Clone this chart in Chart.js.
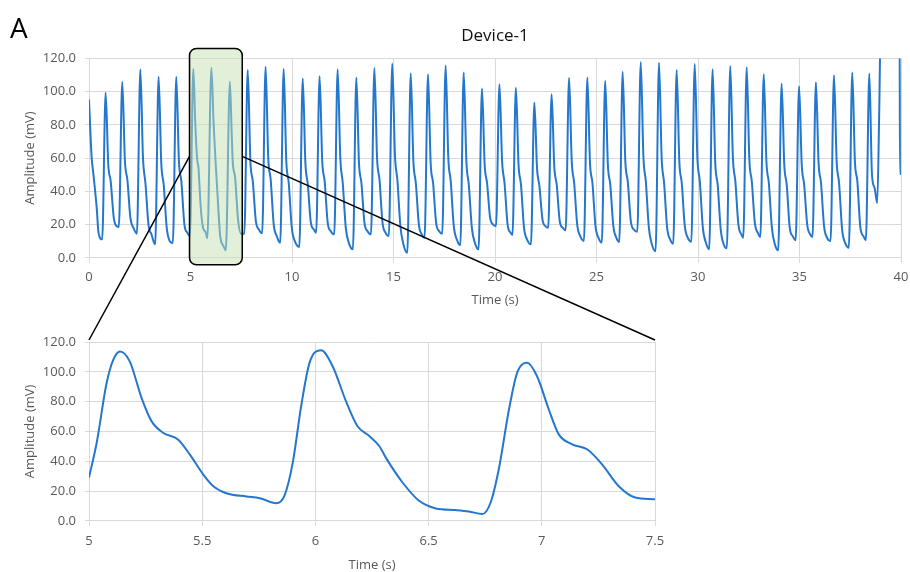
<!DOCTYPE html>
<html>
<head>
<meta charset="utf-8">
<script src="https://cdn.jsdelivr.net/npm/chart.js@4.4.1/dist/chart.umd.min.js"></script>
<style>
body { margin: 0; background: #fff; overflow: hidden; }
#wrap { position: relative; width: 910px; height: 572px; overflow: hidden; font-family: 'Open Sans', sans-serif; }
#topChart { position: absolute; left: 0; top: 0; }
#zoomChart { position: absolute; left: 0; top: 305px; }
#overlay { position: absolute; left: 0; top: 0; pointer-events: none; }
#panel { position: absolute; left: 10px; top: 13px; font-size: 28px; line-height: 28px; color: #000; }
</style>
</head>
<body>
<div id="wrap">
  <canvas id="topChart" width="910" height="308"></canvas>
  <canvas id="zoomChart" width="910" height="268"></canvas>
  <canvas id="overlay" width="910" height="572"></canvas>
  <div id="panel">A</div>
</div>
<script>
// full recording, Device-1 (one row per beat)
const topTime = [
    0, 0.13, 0.22, 0.38, 0.47,
    0.65, 0.82, 0.95, 1.07, 1.22, 1.37,
    1.47, 1.64, 1.77, 1.89, 2.04, 2.19,
    2.36, 2.53, 2.66, 2.78, 2.93, 3.08,
    3.26, 3.43, 3.56, 3.68, 3.83, 3.98,
    4.13, 4.30, 4.43, 4.55, 4.70, 4.85,
    4.97, 5.14, 5.23, 5.33, 5.39, 5.50, 5.61, 5.75,
    5.83, 6.03, 6.14, 6.24, 6.31, 6.39, 6.46, 6.62,
    6.74, 6.94, 7.03, 7.08, 7.20, 7.34, 7.49,
    7.65, 7.82, 7.95, 8.07, 8.22, 8.37,
    8.53, 8.70, 8.83, 8.95, 9.10, 9.25,
    9.42, 9.59, 9.72, 9.84, 9.99, 10.14,
    10.36, 10.53, 10.66, 10.78, 10.93, 11.08,
    11.19, 11.36, 11.49, 11.61, 11.76, 11.91,
    12.08, 12.25, 12.38, 12.50, 12.65, 12.80,
    13.00, 13.17, 13.30, 13.42, 13.57, 13.72,
    13.89, 14.06, 14.19, 14.31, 14.46, 14.61,
    14.77, 14.94, 15.07, 15.19, 15.34, 15.49,
    15.68, 15.85, 15.98, 16.10, 16.25, 16.40,
    16.53, 16.70, 16.83, 16.95, 17.10, 17.25,
    17.40, 17.57, 17.70, 17.82, 17.97, 18.12,
    18.29, 18.46, 18.59, 18.71, 18.86, 19.01,
    19.19, 19.36, 19.49, 19.61, 19.76, 19.91,
    20.05, 20.22, 20.35, 20.47, 20.62, 20.77,
    20.86, 21.03, 21.16, 21.28, 21.43, 21.58,
    21.77, 21.94, 22.07, 22.19, 22.34, 22.49,
    22.62, 22.79, 22.92, 23.04, 23.19, 23.34,
    23.48, 23.65, 23.78, 23.90, 24.05, 24.20,
    24.38, 24.55, 24.68, 24.80, 24.95, 25.10,
    25.26, 25.43, 25.56, 25.68, 25.83, 25.98,
    26.12, 26.29, 26.42, 26.54, 26.69, 26.84,
    27.01, 27.18, 27.31, 27.43, 27.58, 27.73,
    27.91, 28.08, 28.21, 28.33, 28.48, 28.63,
    28.78, 28.95, 29.08, 29.20, 29.35, 29.50,
    29.67, 29.84, 29.97, 30.09, 30.24, 30.39,
    30.55, 30.72, 30.85, 30.97, 31.12, 31.27,
    31.42, 31.59, 31.72, 31.84, 31.99, 32.14,
    32.23, 32.40, 32.53, 32.65, 32.80, 32.95,
    33.07, 33.24, 33.37, 33.49, 33.64, 33.79,
    33.95, 34.12, 34.25, 34.37, 34.52, 34.67,
    34.81, 34.98, 35.11, 35.23, 35.38, 35.53,
    35.64, 35.81, 35.94, 36.06, 36.21, 36.36,
    36.53, 36.70, 36.83, 36.95, 37.10, 37.25,
    37.43, 37.60, 37.73, 37.85, 38.00, 38.15,
    38.27, 38.44, 38.57, 38.70, 38.83,
    38.93, 39.00, 39.93, 39.95, 40.00
];
const topAmp = [
    95.2, 60.5, 50, 30, 15,
    11.1, 99.4, 56, 46, 24, 19,
    18.6, 105.9, 58, 47, 24, 18,
    14.5, 113.4, 60, 45, 20, 14,
    8.1, 109, 57, 44, 18, 10,
    8.9, 109, 58, 46, 20, 15,
    13, 113.7, 82.5, 59.1, 54.6, 31.2, 18.5, 15.2,
    11.8, 114.4, 80.3, 56.9, 42.4, 25.7, 13.4, 7.2,
    4.5, 106, 74.7, 58, 48, 23.4, 14.5,
    14.5, 113, 58, 46, 22, 17,
    14.7, 115, 60, 47, 20, 13,
    9, 113.7, 58, 45, 18, 10,
    6.5, 107.9, 57, 44, 21, 17,
    15.1, 109.3, 58, 46, 21, 16,
    14.1, 113.4, 60, 45, 18, 9,
    5.1, 108.5, 57, 45, 21, 16,
    14.1, 114.2, 60, 47, 21, 15,
    13.1, 117, 62, 47, 19, 8,
    3.0, 111, 58, 45, 20, 14,
    12.1, 110.5, 57, 45, 21, 16,
    14.5, 115.8, 60, 46, 19, 11,
    7.5, 111.5, 58, 44, 18, 9,
    5.1, 101.9, 56, 45, 24, 20,
    19.2, 104.5, 58, 45, 20, 15,
    13.7, 102.3, 56, 44, 18, 11,
    8.1, 93.4, 54, 43, 23, 19,
    18.1, 98.4, 55, 44, 22, 18,
    16.6, 108.3, 58, 45, 20, 13,
    10.1, 108.5, 57, 45, 19, 12,
    9.1, 106.5, 56, 44, 19, 12,
    9.5, 111.9, 58, 46, 22, 17,
    15.7, 117.8, 61, 46, 18, 8,
    4, 117.4, 60, 45, 18, 11,
    8.5, 113, 58, 45, 19, 12,
    9.7, 116.6, 60, 46, 18, 9,
    5.1, 113.4, 57, 44, 17, 8,
    5.7, 115.4, 60, 46, 20, 14,
    12.1, 114.6, 59, 46, 21, 15,
    12.5, 110.5, 58, 45, 18, 8,
    4.5, 104.9, 56, 44, 18, 13,
    10.5, 103.3, 56, 44, 20, 14,
    12.5, 105.7, 57, 45, 19, 12,
    10.1, 109.9, 58, 45, 17, 9,
    6.1, 111.5, 58, 46, 18, 13,
    10.5, 110.9, 50, 42, 33,
    90, 140, 140, 50.5, 50.5
];

// zoomed window 5 - 7.5 s
const zoomTime = [
    5.000, 5.034, 5.078, 5.107, 5.137, 5.180, 5.232, 5.276, 5.327, 5.393,
    5.445, 5.504, 5.548, 5.607, 5.695, 5.754, 5.827, 5.863, 5.900, 5.937,
    5.974, 6.025, 6.076, 6.135, 6.186, 6.238, 6.282, 6.311, 6.385, 6.458,
    6.532, 6.620, 6.678, 6.737, 6.774, 6.810, 6.855, 6.891, 6.935, 6.979,
    7.031, 7.075, 7.134, 7.200, 7.266, 7.339, 7.413, 7.493, 7.500
];
const zoomAmp = [
    29, 52.4, 92.6, 108, 113.7, 107, 82.5, 66.9, 59.1, 54.6,
    44.6, 31.2, 23.4, 18.5, 16.3, 15.2, 11.8, 16.7, 39, 76.9,
    106, 114.4, 103.7, 80.3, 63.5, 56.9, 50.2, 42.4, 25.7, 13.4,
    8.3, 7.2, 6.3, 4.5, 12.3, 34.6, 74.7, 99.3, 106, 97,
    74.7, 58, 51.3, 48, 37.9, 23.4, 15.6, 14.5, 14.4
];

const lineBlue = '#2477CC';
const gridGrey = '#d9d9d9';
const textGrey = '#595959';

Chart.defaults.font.family = "'Open Sans', sans-serif";
Chart.defaults.font.size = 13;

function ampAxis()
{
    return {
        min: 0,
        max: 120,
        ticks: { stepSize: 20, color: textGrey, padding: 9, callback: v => v.toFixed(1) },
        grid: { color: gridGrey, tickLength: 4 },
        border: { color: gridGrey },
        title: { display: true, text: 'Amplitude (mV)', color: textGrey, padding: { top: 4, bottom: 4 } },
        afterFit: s => { s.width = 71; }
    };
}

function timeAxis(min, max, step, labelPad, titlePad)
{
    return {
        type: 'linear',
        min: min,
        max: max,
        ticks: { stepSize: step, color: textGrey, padding: labelPad, maxRotation: 0, callback: v => String(v) },
        grid: { color: gridGrey, tickLength: 5 },
        border: { color: gridGrey },
        title: { display: true, text: 'Time (s)', color: textGrey, padding: { top: titlePad, bottom: 0 } },
        // let the layout padding decide where the plot ends on the right
        afterFit: s => { s.paddingRight = 0; }
    };
}

function points(xs, ys)
{
    return xs.map((x, i) => ({ x: x, y: ys[i] }));
}

const topChart = new Chart(document.getElementById('topChart'), {
    type: 'line',
    data: {
        datasets: [{
            data: points(topTime, topAmp),
            borderColor: lineBlue,
            borderWidth: 2,
            pointRadius: 0,
            cubicInterpolationMode: 'monotone'
        }]
    },
    options: {
        responsive: false,
        animation: false,
        layout: { padding: { left: 18, right: 9, top: 0, bottom: 0 } },
        plugins: {
            legend: { display: false },
            tooltip: { enabled: false },
            title: {
                display: true,
                fullSize: false,
                text: 'Device-1',
                color: '#111',
                font: { size: 17, weight: 'normal' },
                padding: { top: 26, bottom: 12 }
            }
        },
        scales: {
            x: timeAxis(0, 40, 5, 7, 0),
            y: ampAxis()
        }
    }
});

const zoomChart = new Chart(document.getElementById('zoomChart'), {
    type: 'line',
    data: {
        datasets: [{
            data: points(zoomTime, zoomAmp),
            borderColor: lineBlue,
            borderWidth: 2,
            pointRadius: 0,
            cubicInterpolationMode: 'monotone'
        }]
    },
    options: {
        responsive: false,
        animation: false,
        layout: { padding: { left: 18, right: 255, top: 37, bottom: 0 } },
        plugins: {
            legend: { display: false },
            tooltip: { enabled: false }
        },
        scales: {
            x: timeAxis(5, 7.5, 0.5, 8, 0),
            y: ampAxis()
        }
    }
});

// highlight box on the top chart and the two connector lines
function drawOverlay()
{
    const ctx = document.getElementById('overlay').getContext('2d');
    const ts = topChart.scales;
    const ta = topChart.chartArea;
    const za = zoomChart.chartArea;
    const zoomTop = 305;

    const x1 = ts.x.getPixelForValue(5) - 1;
    const x2 = ts.x.getPixelForValue(7.5) + 1;
    const y1 = ta.top - 10;
    const y2 = ta.bottom + 7;
    const r = 7;

    ctx.beginPath();
    ctx.moveTo(x1 + r, y1);
    ctx.arcTo(x2, y1, x2, y2, r);
    ctx.arcTo(x2, y2, x1, y2, r);
    ctx.arcTo(x1, y2, x1, y1, r);
    ctx.arcTo(x1, y1, x2, y1, r);
    ctx.closePath();
    ctx.fillStyle = 'rgba(197, 225, 179, 0.5)';
    ctx.fill();
    ctx.lineWidth = 1.5;
    ctx.strokeStyle = '#000';
    ctx.stroke();

    const yJoin = ts.y.getPixelForValue(61);
    ctx.beginPath();
    ctx.moveTo(x1, yJoin);
    ctx.lineTo(za.left, za.top + zoomTop - 2);
    ctx.moveTo(x2, yJoin);
    ctx.lineTo(za.right, za.top + zoomTop - 2);
    ctx.lineWidth = 1.5;
    ctx.stroke();
}

drawOverlay();
</script>
</body>
</html>
